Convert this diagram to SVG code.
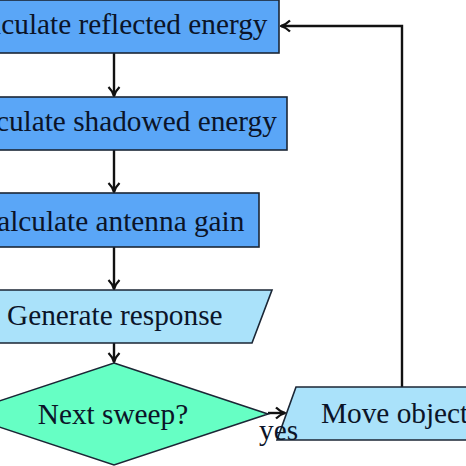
<svg xmlns="http://www.w3.org/2000/svg" width="466" height="466" viewBox="0 0 466 466">
<defs>
<style>
.proc{fill:#5aa6f7;stroke:#1b2635;stroke-width:1.6}
.io{fill:#aae2fa;stroke:#1b2635;stroke-width:1.6}
.dec{fill:#66ffc4;stroke:#1b2635;stroke-width:1.6}
.t{font-family:"Liberation Serif","Times New Roman",serif;font-size:29.3px;fill:#0b1428}
.c{text-anchor:middle}
.ln{fill:none;stroke:#111;stroke-width:2.4}
</style>
<marker id="ah" markerWidth="14" markerHeight="14" refX="11" refY="7" orient="auto" markerUnits="userSpaceOnUse">
<path d="M2,1.5 Q6,5.5 11,7 Q6,8.5 2,12.5" fill="none" stroke="#111" stroke-width="2.3" stroke-linejoin="round"/>
</marker>
</defs>
<rect width="466" height="466" fill="#fff"/>
<g id="connectors">
<line class="ln" x1="114" y1="53" x2="114" y2="96" marker-end="url(#ah)"/>
<line class="ln" x1="114" y1="150" x2="114" y2="192" marker-end="url(#ah)"/>
<line class="ln" x1="114" y1="247" x2="114" y2="289" marker-end="url(#ah)"/>
<line class="ln" x1="114" y1="343" x2="114" y2="362" marker-end="url(#ah)"/>
<line class="ln" x1="268" y1="413" x2="285" y2="413" marker-end="url(#ah)"/>
<polyline class="ln" points="402,387 402,26 281,26" marker-end="url(#ah)"/>
</g>
<g id="n1">
<rect class="proc" x="-52" y="0" width="331" height="53"/>
<text class="t c" x="114" y="34">Calculate reflected energy</text>
</g>
<g id="n2">
<rect class="proc" x="-60" y="97" width="347" height="53"/>
<text class="t c" x="116" y="131">Calculate shadowed energy</text>
</g>
<g id="n3">
<rect class="proc" x="-32" y="193" width="291" height="54"/>
<text class="t c" x="111" y="231">Calculate antenna gain</text>
</g>
<g id="n4">
<polygon class="io" points="-24,290 272,290 252,343 -44,343"/>
<text class="t" x="7" y="325">Generate response</text>
</g>
<g id="n5">
<polygon class="dec" points="114,363 268,414 114,465 -40,414"/>
<text class="t c" x="113" y="424">Next sweep?</text>
</g>
<g id="n6">
<polygon class="io" points="296,387 560,387 541,440 277,440"/>
<text class="t" x="321" y="423">Move object</text>
</g>
<text class="t" x="259" y="440">yes</text>
</svg>
